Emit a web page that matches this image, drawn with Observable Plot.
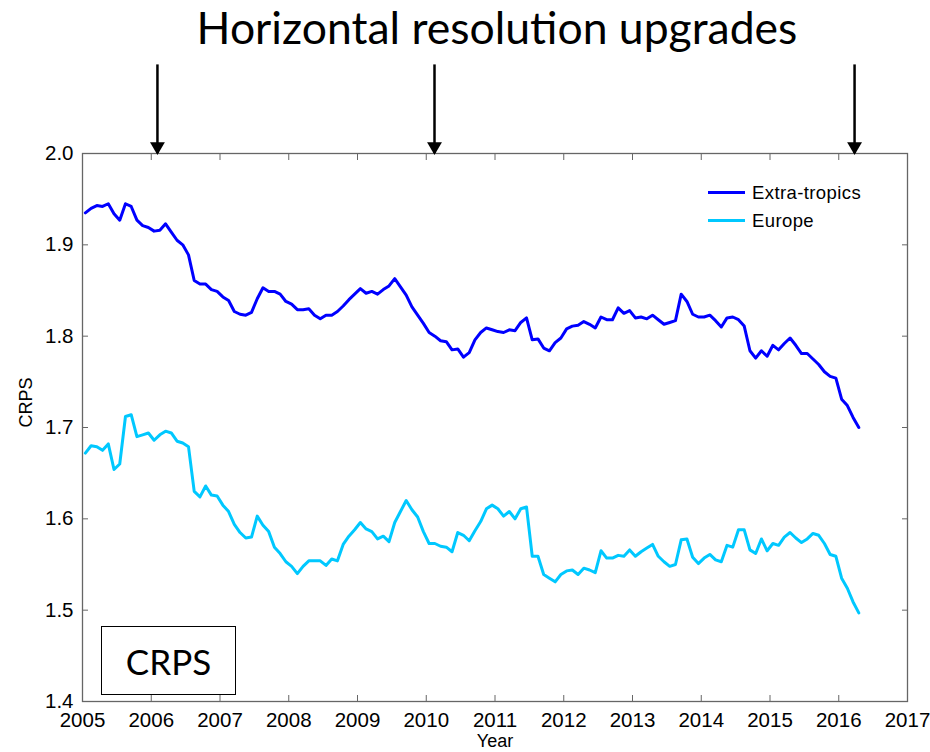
<!DOCTYPE html>
<html>
<head>
<meta charset="utf-8">
<script src="https://cdn.jsdelivr.net/npm/d3@7"></script>
<script src="https://cdn.jsdelivr.net/npm/@observablehq/plot@0.6"></script>
<style>
  body { margin: 0; background: #fff; }
  #wrap { position: relative; width: 930px; height: 752px; overflow: hidden; background: #fff; }
  #title { position: absolute; left: 147px; top: 0px; width: 700px; text-align: center; white-space: nowrap;
           font-family: Lato, "Open Sans", sans-serif; font-size: 44.5px; line-height: 54px; color: #000; }
  #chart { position: absolute; left: 0; top: 60px; }
  #chart svg [aria-label="x-axis tick label"], #chart svg [aria-label="y-axis tick label"] { font-size: 20.5px !important; }
  #chart svg [aria-label="text"] { font-size: 18px !important; }
  #legend { position: absolute; left: 708px; top: 179px; font-family: "Liberation Sans", Arial, sans-serif;
            font-size: 18.5px; letter-spacing: 0.4px; color: #000; }
  #legend .row { display: flex; align-items: center; height: 27.7px; }
  #legend .sw { display: inline-block; width: 37px; height: 3px; margin-right: 7px; }
  #box { position: absolute; left: 101px; top: 626px; width: 133px; height: 67px; border: 1.5px solid #000;
         display: flex; align-items: center; justify-content: center;
         font-family: Lato, "Open Sans", sans-serif; font-size: 35px; color: #000; }
</style>
</head>
<body>
<div id="wrap">
  <div id="title">Horizontal resolution upgrades</div>
  <div id="chart"></div>
  <div id="legend"></div>
  <div id="box">CRPS</div>
</div>
<script>
// ---- data (monthly values, Jan 2005 .. Apr 2016) ----
const startYear = 2005;
const seriesNames = ["Extra-tropics", "Europe"];
const seriesColors = ["#0000ff", "#00c8ff"];

const extraTropics = [
  1.935, 1.940, 1.943, 1.942, 1.945, 1.934, 1.927, 1.945, 1.942, 1.927, 1.921, 1.919,
  1.915, 1.916, 1.923, 1.914, 1.905, 1.900, 1.889, 1.861, 1.857, 1.857, 1.851, 1.849,
  1.843, 1.839, 1.827, 1.824, 1.823, 1.826, 1.841, 1.853, 1.849, 1.849, 1.846, 1.838,
  1.835, 1.829, 1.829, 1.830, 1.823, 1.819, 1.823, 1.823, 1.827, 1.833, 1.840, 1.846,
  1.852, 1.847, 1.849, 1.846, 1.851, 1.855, 1.863, 1.854, 1.845, 1.832, 1.823, 1.814,
  1.804, 1.800, 1.795, 1.794, 1.785, 1.786, 1.777, 1.782, 1.796, 1.804, 1.809, 1.807,
  1.805, 1.804, 1.807, 1.806, 1.815, 1.820, 1.796, 1.797, 1.787, 1.784, 1.793, 1.798,
  1.808, 1.811, 1.812, 1.816, 1.813, 1.809, 1.821, 1.818, 1.818, 1.831, 1.825, 1.828,
  1.820, 1.821, 1.819, 1.823, 1.818, 1.813, 1.815, 1.817, 1.846, 1.838, 1.824, 1.821,
  1.821, 1.823, 1.817, 1.810, 1.820, 1.821, 1.818, 1.811, 1.784, 1.776, 1.784, 1.778,
  1.790, 1.785, 1.792, 1.798, 1.790, 1.781, 1.781, 1.775, 1.769, 1.761, 1.756, 1.754,
  1.731, 1.724, 1.711, 1.700
];

const europe = [
  1.672, 1.680, 1.679, 1.675, 1.682, 1.654, 1.660, 1.712, 1.714, 1.690, 1.692, 1.694,
  1.686, 1.692, 1.696, 1.694, 1.685, 1.683, 1.679, 1.630, 1.624, 1.636, 1.626, 1.625,
  1.615, 1.608, 1.594, 1.585, 1.579, 1.580, 1.603, 1.593, 1.586, 1.569, 1.562, 1.553,
  1.548, 1.540, 1.548, 1.554, 1.554, 1.554, 1.549, 1.556, 1.554, 1.572, 1.581, 1.588,
  1.596, 1.589, 1.586, 1.578, 1.581, 1.575, 1.596, 1.608, 1.620, 1.610, 1.602, 1.586,
  1.573, 1.573, 1.570, 1.569, 1.564, 1.585, 1.582, 1.576, 1.587, 1.597, 1.611, 1.615,
  1.611, 1.603, 1.608, 1.600, 1.611, 1.613, 1.559, 1.559, 1.539, 1.535, 1.531, 1.539,
  1.543, 1.544, 1.539, 1.546, 1.544, 1.541, 1.565, 1.557, 1.557, 1.560, 1.559, 1.566,
  1.559, 1.564, 1.568, 1.572, 1.559, 1.553, 1.548, 1.550, 1.577, 1.578, 1.558, 1.551,
  1.557, 1.561, 1.555, 1.553, 1.571, 1.569, 1.588, 1.588, 1.566, 1.562, 1.578, 1.565,
  1.573, 1.571, 1.580, 1.585, 1.579, 1.574, 1.578, 1.584, 1.582, 1.573, 1.561, 1.559,
  1.535, 1.524, 1.509, 1.497
];

// resolution upgrade dates (decimal years) and arrow top (in CRPS units, above the frame)
const upgrades = [2006.09, 2010.12, 2016.23];
const arrowTop = 2.097;

const xTicks = [2005, 2006, 2007, 2008, 2009, 2010, 2011, 2012, 2013, 2014, 2015, 2016, 2017];
const yTicks = [1.4, 1.5, 1.6, 1.7, 1.8, 1.9, 2.0];

// ---- build table ----
const rows = [];
[extraTropics, europe].forEach((arr, s) => {
  arr.forEach((v, i) => rows.push({date: startYear + (i + 0.5) / 12, value: v, series: seriesNames[s]}));
});

const axisColor = "#666";
const blank = () => "";

const chart = Plot.plot({
  width: 930,
  height: 692,
  marginTop: 93,
  marginLeft: 82,
  marginRight: 23,
  marginBottom: 51,
  style: {fontFamily: "'Liberation Sans', Arial, sans-serif", fontSize: "18px", color: "#000", background: "transparent", overflow: "visible"},
  x: {domain: [2005, 2017]},
  y: {domain: [1.4, 2.0]},
  color: {domain: seriesNames, range: seriesColors},
  marks: [
    Plot.frame({stroke: axisColor, strokeWidth: 1.3}),
    // inward ticks on all four sides
    Plot.axisX({anchor: "bottom", ticks: xTicks, tickSize: -6, tickFormat: blank, label: null, stroke: axisColor}),
    Plot.axisX({anchor: "top", ticks: xTicks, tickSize: -6, tickFormat: blank, label: null, stroke: axisColor}),
    Plot.axisY({anchor: "left", ticks: yTicks, tickSize: -6, tickFormat: blank, label: null, stroke: axisColor}),
    Plot.axisY({anchor: "right", ticks: yTicks, tickSize: -6, tickFormat: blank, label: null, stroke: axisColor}),
    // tick labels
    Plot.axisX({anchor: "bottom", ticks: xTicks, tickSize: 0, tickPadding: 11, tickFormat: d => String(d), label: null, fontSize: 20.5}),
    Plot.axisY({anchor: "left", ticks: yTicks, tickSize: 0, tickPadding: 9, tickFormat: d => d.toFixed(1), label: null, fontSize: 20.5}),
    // series
    Plot.line(rows, {x: "date", y: "value", z: "series", stroke: "series", strokeWidth: 3, strokeLinejoin: "round"}),
    // upgrade arrows
    Plot.ruleX(upgrades, {x: d => d, y1: 2.0, y2: arrowTop, stroke: "#000", strokeWidth: 2.5}),
    Plot.dot(upgrades, {x: d => d, y: 2.0, symbol: "triangle", r: 5.5, rotate: 180, fill: "#000", stroke: "none", dy: -7}),
    // axis titles
    Plot.text(["CRPS"], {frameAnchor: "left", text: d => d, rotate: -90, dx: -56, fontSize: 18}),
    Plot.text(["Year"], {frameAnchor: "bottom", text: d => d, dy: 45, fontSize: 18})
  ]
});
document.getElementById("chart").appendChild(chart);

// legend
const legend = document.getElementById("legend");
seriesNames.forEach((name, i) => {
  const row = document.createElement("div");
  row.className = "row";
  const sw = document.createElement("span");
  sw.className = "sw";
  sw.style.background = seriesColors[i];
  row.appendChild(sw);
  row.appendChild(document.createTextNode(name));
  legend.appendChild(row);
});
</script>
</body>
</html>
